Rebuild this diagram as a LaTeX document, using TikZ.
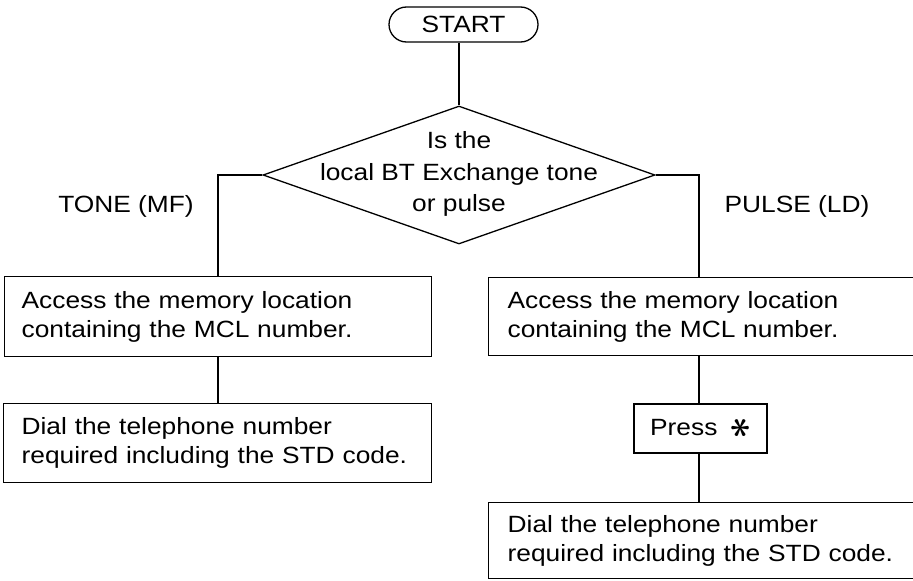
\documentclass[tikz,border=0pt]{standalone}
\usepackage{fontspec}
\setmainfont[FakeStretch=1.12]{Liberation Sans}
\usetikzlibrary{shapes.geometric,shapes.misc}
\newcommand\myfsz{\fontsize{23.5}{29}\selectfont}
\begin{document}
\begin{tikzpicture}[x=1pt,y=-1pt,
  lw/.style={line width=1.3pt},
  box/.style={draw, lw, align=left, anchor=north west, font=\myfsz},
  lbl/.style={font=\myfsz, anchor=base},
  conn/.style={lw}]
\useasboundingbox (0,0) rectangle (913,581);
% start
\node[draw, lw, rounded rectangle, minimum width=149pt, minimum height=35pt, inner sep=0pt, font=\myfsz] (start) at (463.5,24.5) {START};
% decision
\node[draw, lw, diamond, aspect=2.84, minimum width=392pt, minimum height=138pt, inner sep=0pt] (dia) at (459,175) {};
\node[font=\fontsize{23.5}{31.5}\selectfont, align=center, inner sep=0pt] (q) at (459,174) {Is the\\local BT Exchange tone\\or pulse};
% labels
\node[lbl] (tone) at (126,212) {TONE (MF)};
\node[lbl] (pulse) at (797,212) {PULSE (LD)};
% left column
\node[box, inner xsep=17pt, text width=393pt, minimum height=80pt] (lb1) at (4,276) {Access the memory location\\containing the MCL number.};
\node[box, inner xsep=18pt, text width=392pt, minimum height=79pt] (lb2) at (3,403) {Dial the telephone number\\required including the STD code.};
% right column
\node[box, inner xsep=19pt, text width=389pt, minimum height=78pt] (rb1) at (488,277) {Access the memory location\\containing the MCL number.};
\node[draw, lw, minimum width=133pt, minimum height=49pt, inner sep=0pt, font=\myfsz] (press) at (700.5,428.5) {Press\ \ \raisebox{-2pt}{{\boldmath\rotatebox[origin=c]{90}{\scalebox{1.6}{$\ast$}}}}};
\node[box, inner xsep=19pt, text width=389pt, minimum height=76pt] (rb2) at (488,502) {Dial the telephone number\\required including the STD code.};
% axis coordinates
\coordinate (lx) at (218,0);
\coordinate (rx) at (699,0);
% connectors
\draw[conn] (start.south -| dia.north) -- (dia.north);
\draw[conn] (dia.west) -| (lx |- lb1.north);
\draw[conn] (dia.east) -| (rx |- rb1.north);
\draw[conn] (lx |- lb1.south) -- (lx |- lb2.north);
\draw[conn] (rx |- rb1.south) -- (rx |- press.north);
\draw[conn] (rx |- press.south) -- (rx |- rb2.north);
\end{tikzpicture}
\end{document}
